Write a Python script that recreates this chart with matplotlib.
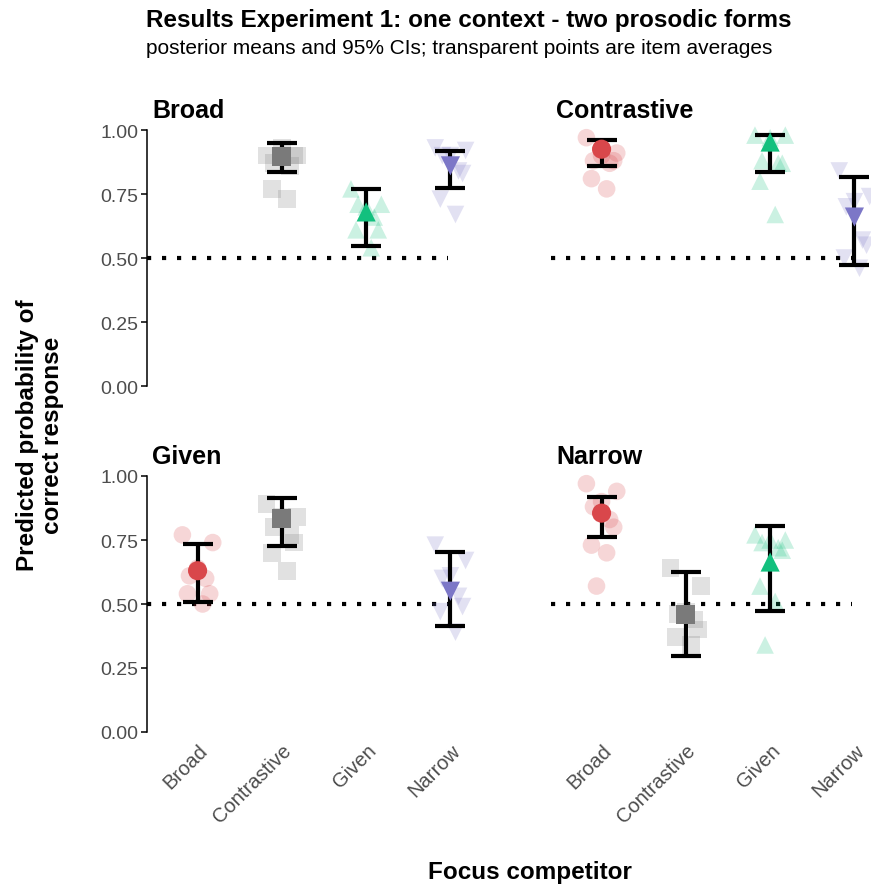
import numpy as np
import matplotlib
matplotlib.use("Agg")
import matplotlib.pyplot as plt

plt.rcParams['font.family'] = ['Liberation Sans', 'DejaVu Sans']

competitors = ["Broad", "Contrastive", "Given", "Narrow"]
contexts = ["Broad", "Contrastive", "Given", "Narrow"]

colors = {"Broad": "#D9474B", "Contrastive": "#7A7A7A",
          "Given": "#13C07E", "Narrow": "#7C77C7"}
markers = {"Broad": "o", "Contrastive": "s", "Given": "^", "Narrow": "v"}

# posterior means and 95% CIs per context (panel) and competitor
means = {
    "Broad": {"Contrastive": 0.898, "Given": 0.68, "Narrow": 0.86},
    "Contrastive": {"Broad": 0.925, "Given": 0.953, "Narrow": 0.66},
    "Given": {"Broad": 0.63, "Contrastive": 0.835, "Narrow": 0.55},
    "Narrow": {"Broad": 0.855, "Contrastive": 0.46, "Given": 0.664},
}
ci_low = {
    "Broad": {"Contrastive": 0.836, "Given": 0.547, "Narrow": 0.773},
    "Contrastive": {"Broad": 0.86, "Given": 0.836, "Narrow": 0.473},
    "Given": {"Broad": 0.508, "Contrastive": 0.727, "Narrow": 0.414},
    "Narrow": {"Broad": 0.762, "Contrastive": 0.297, "Given": 0.473},
}
ci_high = {
    "Broad": {"Contrastive": 0.949, "Given": 0.77, "Narrow": 0.918},
    "Contrastive": {"Broad": 0.96, "Given": 0.98, "Narrow": 0.816},
    "Given": {"Broad": 0.734, "Contrastive": 0.914, "Narrow": 0.703},
    "Narrow": {"Broad": 0.918, "Contrastive": 0.625, "Given": 0.805},
}

# item averages (transparent points)
items = {
    "Broad": {
        "Contrastive": [0.90, 0.90, 0.93, 0.87, 0.86, 0.90, 0.77, 0.73],
        "Given": [0.77, 0.71, 0.70, 0.71, 0.66, 0.61, 0.61, 0.54],
        "Narrow": [0.93, 0.92, 0.90, 0.90, 0.84, 0.83, 0.73, 0.67],
    },
    "Contrastive": {
        "Broad": [0.97, 0.91, 0.90, 0.88, 0.87, 0.88, 0.81, 0.77],
        "Given": [0.98, 0.98, 0.97, 0.88, 0.87, 0.87, 0.80, 0.67],
        "Narrow": [0.84, 0.74, 0.72, 0.70, 0.57, 0.55, 0.50, 0.46],
    },
    "Given": {
        "Broad": [0.77, 0.74, 0.64, 0.61, 0.60, 0.54, 0.54, 0.50],
        "Contrastive": [0.89, 0.84, 0.84, 0.80, 0.77, 0.74, 0.70, 0.63],
        "Narrow": [0.73, 0.67, 0.61, 0.60, 0.53, 0.49, 0.47, 0.39],
    },
    "Narrow": {
        "Broad": [0.97, 0.94, 0.90, 0.88, 0.83, 0.80, 0.73, 0.70, 0.57],
        "Contrastive": [0.64, 0.57, 0.47, 0.46, 0.44, 0.40, 0.37, 0.34],
        "Given": [0.77, 0.75, 0.75, 0.74, 0.72, 0.71, 0.57, 0.51, 0.34],
    },
}

# small horizontal offsets of the item points (jitter)
jitter = [-0.15, 0.15, 0.0, -0.08, 0.08, 0.12, -0.1, 0.05, -0.05]

fig = plt.figure(figsize=(8.71, 8.87), dpi=100)

W, H = 871, 887
panel_w = 354
panel_h = 256
boxes = {
    "Broad": (147, 387),
    "Contrastive": (551, 387),
    "Given": (147, 733),
    "Narrow": (551, 733),
}

for ctx in contexts:
    x0, ybot = boxes[ctx]
    ax = fig.add_axes([x0 / W, 1 - ybot / H, panel_w / W, panel_h / H])
    ax.set_xlim(0.4, 4.6)
    ax.set_ylim(0, 1)
    for s in ["top", "right", "bottom"]:
        ax.spines[s].set_visible(False)
    left_col = ctx in ("Broad", "Given")
    bottom_row = ctx in ("Given", "Narrow")
    ax.spines["left"].set_visible(left_col)
    ax.spines["left"].set_linewidth(1.1)
    ax.set_yticks([0, 0.25, 0.5, 0.75, 1.0])
    if left_col:
        ax.set_yticklabels(["0.00", "0.25", "0.50", "0.75", "1.00"])
        ax.tick_params(axis="y", length=4, width=1.1, labelsize=14,
                       labelcolor="#4D4D4D", pad=2)
    else:
        ax.tick_params(axis="y", left=False, labelleft=False)
    ax.set_xticks(range(1, 5))
    if bottom_row:
        ax.set_xticklabels(competitors, rotation=45, ha="right",
                           rotation_mode="anchor", fontsize=14.5,
                           color="#4D4D4D")
        ax.tick_params(axis="x", length=0, pad=6)
    else:
        ax.tick_params(axis="x", bottom=False, labelbottom=False)

    ax.plot([0.4, 3.97], [0.5, 0.5], linestyle=(0, (1, 2.6)), color="black",
            linewidth=3, zorder=1, clip_on=False)

    for i, comp in enumerate(competitors):
        if comp == ctx:
            continue
        xpos = i + 1
        vals = items[ctx][comp]
        xs = [xpos + 1.2 * jitter[k] for k in range(len(vals))]
        ax.scatter(xs, vals, s=160, marker=markers[comp], color=colors[comp],
                   alpha=0.22, edgecolors="none", zorder=2, clip_on=False)
        m = means[ctx][comp]
        lo = ci_low[ctx][comp]
        hi = ci_high[ctx][comp]
        ax.errorbar([xpos], [m], yerr=[[m - lo], [hi - m]], fmt="none",
                    ecolor="black", elinewidth=3, capsize=11, capthick=3,
                    zorder=3, clip_on=False)
        ax.scatter([xpos], [m], s=190, marker=markers[comp],
                   color=colors[comp], edgecolors="none", zorder=4,
                   clip_on=False)

    ax.text(0.015, 1.08, ctx, transform=ax.transAxes, fontsize=18,
            fontweight="bold", va="center", ha="left")

fig.text(146 / W, 1 - 20 / H, "Results Experiment 1: one context - two prosodic forms",
         fontsize=17.5, fontweight="bold", ha="left", va="center")
fig.text(146 / W, 1 - 48 / H,
         "posterior means and 95% CIs; transparent points are item averages",
         fontsize=15, ha="left", va="center")
fig.text(40 / W, 1 - 435 / H, "Predicted probability of\ncorrect response",
         fontsize=17.5, fontweight="bold", rotation=90, ha="center",
         va="center", linespacing=1.1)
fig.text(530 / W, 1 - 873 / H, "Focus competitor", fontsize=17.5,
         fontweight="bold", ha="center", va="center")

fig.savefig("out.png", dpi=100)
